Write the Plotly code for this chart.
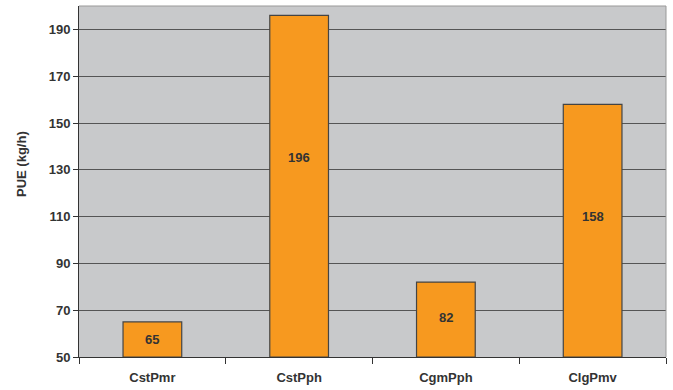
import plotly.graph_objects as go

categories = ["CstPmr", "CstPph", "CgmPph", "ClgPmv"]
values = [65, 196, 82, 158]
y_ticks = [50, 70, 90, 110, 130, 150, 170, 190]
axis_min = 50
y_title = "PUE (kg/h)"
# vertical position (in axis units) of each value label
label_y = [57.3, 135.4, 66.7, 110.0]

fig = go.Figure(go.Bar(
    x=categories, y=[v - axis_min for v in values], base=axis_min,
    marker=dict(color="#F7991F", line=dict(color="#444444", width=1.2)),
    width=0.4,
    hovertext=[str(v) for v in values],
))

for c, v, ly in zip(categories, values, label_y):
    fig.add_annotation(x=c, y=ly, text=str(v), showarrow=False,
                       font=dict(family="Arial, Liberation Sans", size=13, color="#333333", weight="bold"))

fig.add_annotation(xref="paper", yref="paper", x=-0.097, y=0.55, text=y_title,
                   textangle=-90, showarrow=False, xanchor="center", yanchor="middle",
                   font=dict(family="Arial, Liberation Sans", size=13, color="#333333", weight="bold"))

fig.update_layout(
    width=673, height=390,
    margin=dict(l=79, r=7, t=6, b=33),
    paper_bgcolor="white",
    plot_bgcolor="#C8C9CB",
    showlegend=False,
    font=dict(family="Arial, Liberation Sans", size=13, color="#333333"),
)
fig.update_xaxes(
    showgrid=False, showline=True, linecolor="#333333", linewidth=1,
    ticks="outside", tickson="boundaries", ticklen=6, tickcolor="#333333",
    tickfont=dict(size=13, color="#333333", weight="bold"),
    ticklabelstandoff=8,
)
fig.update_yaxes(
    range=[axis_min, 200], tickvals=y_ticks,
    showgrid=True, gridcolor="#555555", gridwidth=1,
    showline=True, linecolor="#333333", linewidth=1,
    ticks="outside", ticklen=5, tickcolor="#333333",
    tickfont=dict(size=13, color="#333333", weight="bold"),
    zeroline=False,
)
fig.add_shape(type="line", xref="paper", yref="paper", x0=0, x1=1, y0=1, y1=1,
              line=dict(color="#999999", width=1))
fig.add_shape(type="line", xref="paper", yref="paper", x0=1, x1=1, y0=0, y1=1,
              line=dict(color="#999999", width=1))

fig.write_html("out.html")
